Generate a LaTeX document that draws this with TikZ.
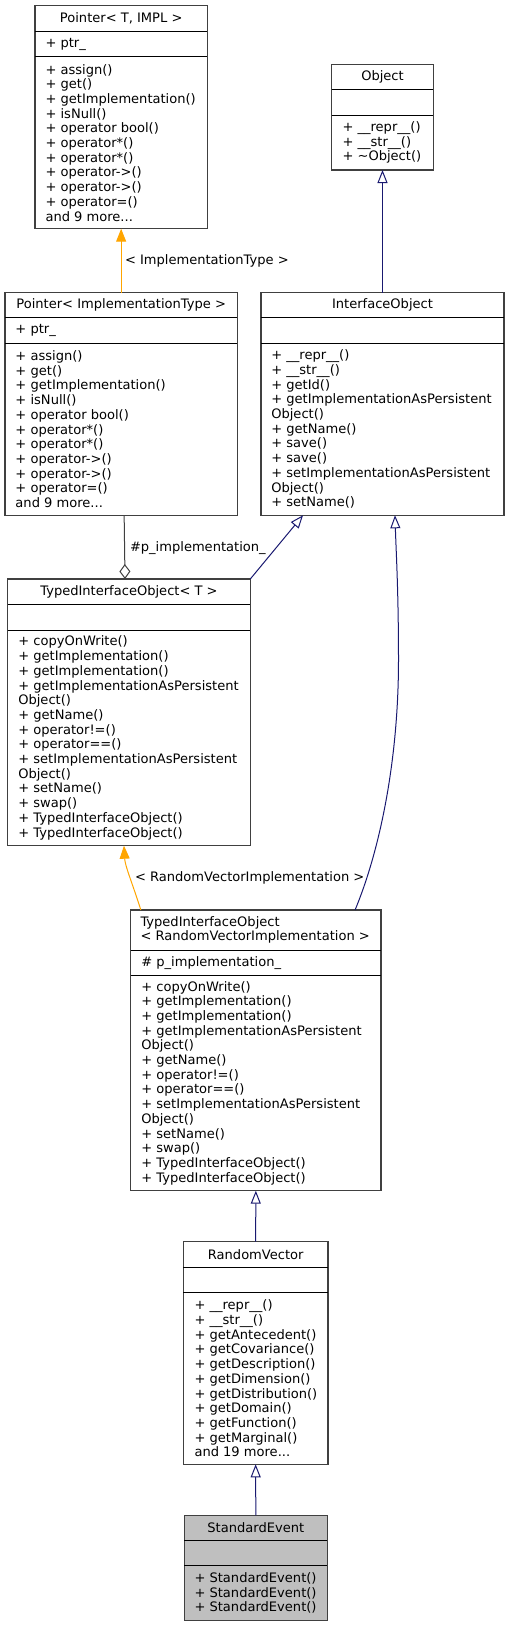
\documentclass[tikz,border=0pt]{standalone}
\usepackage{fontspec}
\setmainfont{DejaVu Sans}
\usetikzlibrary{arrows.meta}
\definecolor{navy}{HTML}{191970}
\definecolor{orng}{HTML}{FFA500}
\definecolor{bord}{HTML}{404040}
\definecolor{segray}{HTML}{BFBFBF}
\begin{document}
\begin{tikzpicture}[x=1pt,y=-1pt,
  every node/.style={font=\fontsize{13.05}{14.7}\selectfont, inner sep=0pt, outer sep=0pt},
  cls/.style={draw=bord, line width=1.2pt, fill=white, anchor=north west},
  sepline/.style={draw=black, line width=0.9pt},
  ttl/.style={anchor=center},
  mth/.style={anchor=west, align=left},
  lbl/.style={anchor=base west},
  inh/.style={draw=navy, line width=1pt, -{Triangle[open, length=13pt, width=10pt, fill=white]}},
  tpl/.style={draw=orng, line width=1pt, -{Triangle[length=13pt, width=10pt]}},
  usage/.style={draw=bord, line width=1pt, -{Diamond[open, length=15pt, width=11pt, fill=white]}},
]
\useasboundingbox (0,0) rectangle (509,1627);

% Pointer< T, IMPL >
\node[cls, minimum width=172.3pt, minimum height=223pt] (ptrT) at (35,5.7) {};
\draw[sepline] (35,31.3) -- (207.3,31.3) (35,56.7) -- (207.3,56.7);
\node[ttl] (ptrTt) at (121.2,18.5) {Pointer< T, IMPL >};
\node[mth] (ptrTa) at (45.5,44) {+ ptr\_};
\node[mth] (ptrTm) at (45.5,142.7) {+ assign()\\+ get()\\+ getImplementation()\\+ isNull()\\+ operator bool()\\+ operator*()\\+ operator*()\\+ operator->()\\+ operator->()\\+ operator=()\\and 9 more...};

% Object
\node[cls, minimum width=101.6pt, minimum height=105.3pt] (obj) at (331.7,64.7) {};
\draw[sepline] (331.7,89.3) -- (433.3,89.3) (331.7,115.3) -- (433.3,115.3);
\node[ttl] (objt) at (382.5,77) {Object};
\node[mth] (objm) at (342.5,142.7) {+ \_\_repr\_\_()\\+ \_\_str\_\_()\\+ \textasciitilde Object()};

% Pointer< ImplementationType >
\node[cls, minimum width=232.3pt, minimum height=222.6pt] (ptrIT) at (5,292.7) {};
\draw[sepline] (5,317.7) -- (237.3,317.7) (5,343) -- (237.3,343);
\node[ttl] (ptrITt) at (121.2,305.2) {Pointer< ImplementationType >};
\node[mth] (ptrITa) at (15.5,330.3) {+ ptr\_};
\node[mth] (ptrITm) at (15.5,429.2) {+ assign()\\+ get()\\+ getImplementation()\\+ isNull()\\+ operator bool()\\+ operator*()\\+ operator*()\\+ operator->()\\+ operator->()\\+ operator=()\\and 9 more...};

% InterfaceObject
\node[cls, minimum width=243pt, minimum height=222.6pt] (iface) at (261,292.7) {};
\draw[sepline] (261,317.7) -- (504,317.7) (261,343) -- (504,343);
\node[ttl] (ifacet) at (382.5,305.2) {InterfaceObject};
\node[mth] (ifacem) at (271.3,429.2) {+ \_\_repr\_\_()\\+ \_\_str\_\_()\\+ getId()\\+ getImplementationAsPersistent\\Object()\\+ getName()\\+ save()\\+ save()\\+ setImplementationAsPersistent\\Object()\\+ setName()};

% TypedInterfaceObject< T >
\node[cls, minimum width=242.6pt, minimum height=266.7pt] (tioT) at (7.7,579) {};
\draw[sepline] (7.7,604.3) -- (250.3,604.3) (7.7,630) -- (250.3,630);
\node[ttl] (tioTt) at (129,591.7) {TypedInterfaceObject< T >};
\node[mth] (tioTm) at (18.3,737.9) {+ copyOnWrite()\\+ getImplementation()\\+ getImplementation()\\+ getImplementationAsPersistent\\Object()\\+ getName()\\+ operator!=()\\+ operator==()\\+ setImplementationAsPersistent\\Object()\\+ setName()\\+ swap()\\+ TypedInterfaceObject()\\+ TypedInterfaceObject()};

% TypedInterfaceObject< RandomVectorImplementation >
\node[cls, minimum width=250.3pt, minimum height=280.7pt] (tioR) at (130.7,910) {};
\draw[sepline] (130.7,950) -- (381,950) (130.7,975.3) -- (381,975.3);
\node[mth] (tioRt) at (140.5,930) {TypedInterfaceObject\\< RandomVectorImplementation >};
\node[mth] (tioRa) at (141.3,962.7) {\# p\_implementation\_};
\node[mth] (tioRm) at (141.3,1083) {+ copyOnWrite()\\+ getImplementation()\\+ getImplementation()\\+ getImplementationAsPersistent\\Object()\\+ getName()\\+ operator!=()\\+ operator==()\\+ setImplementationAsPersistent\\Object()\\+ setName()\\+ swap()\\+ TypedInterfaceObject()\\+ TypedInterfaceObject()};

% RandomVector
\node[cls, minimum width=144.7pt, minimum height=222.6pt] (rv) at (183.3,1241.7) {};
\draw[sepline] (183.3,1267.3) -- (328,1267.3) (183.3,1292.7) -- (328,1292.7);
\node[ttl] (rvt) at (255.7,1254.5) {RandomVector};
\node[mth] (rvm) at (194.5,1378.5) {+ \_\_repr\_\_()\\+ \_\_str\_\_()\\+ getAntecedent()\\+ getCovariance()\\+ getDescription()\\+ getDimension()\\+ getDistribution()\\+ getDomain()\\+ getFunction()\\+ getMarginal()\\and 19 more...};

% StandardEvent
\node[cls, fill=segray, minimum width=143pt, minimum height=105pt] (se) at (184.3,1515.3) {};
\draw[sepline] (184.3,1540.3) -- (327.3,1540.3) (184.3,1565.7) -- (327.3,1565.7);
\node[ttl] (set) at (255.8,1527.8) {StandardEvent};
\node[mth] (sem) at (194.5,1593) {+ StandardEvent()\\+ StandardEvent()\\+ StandardEvent()};

% connectors
\draw[tpl] (ptrIT.north) -- (ptrT.south);
\node[lbl] (l1) at (125,264) {< ImplementationType >};
\draw[inh] (iface.north) -- (obj.south);
\draw[usage] ([xshift=3pt]ptrIT.south) -- ([xshift=-4pt]tioT.north);
\node[lbl] (l2) at (130,551.7) {\#p\_implementation\_};
\draw[inh] (tioT.north east) -- ([xshift=-79.5pt]iface.south);
\draw[inh] ([xshift=99.2pt]tioR.north) .. controls (380,850) and (398.5,760) .. (398.5,660) .. controls (398.5,590) and (396,550) .. ([xshift=12.5pt]iface.south);
\draw[tpl] ([xshift=-115pt]tioR.north) .. controls (133,885) and (125,866) .. ([xshift=-5pt]tioT.south);
\node[lbl] (l3) at (135,881) {< RandomVectorImplementation >};
\draw[inh] (rv.north) -- (tioR.south);
\draw[inh] (se.north) -- (rv.south);
\end{tikzpicture}
\end{document}
